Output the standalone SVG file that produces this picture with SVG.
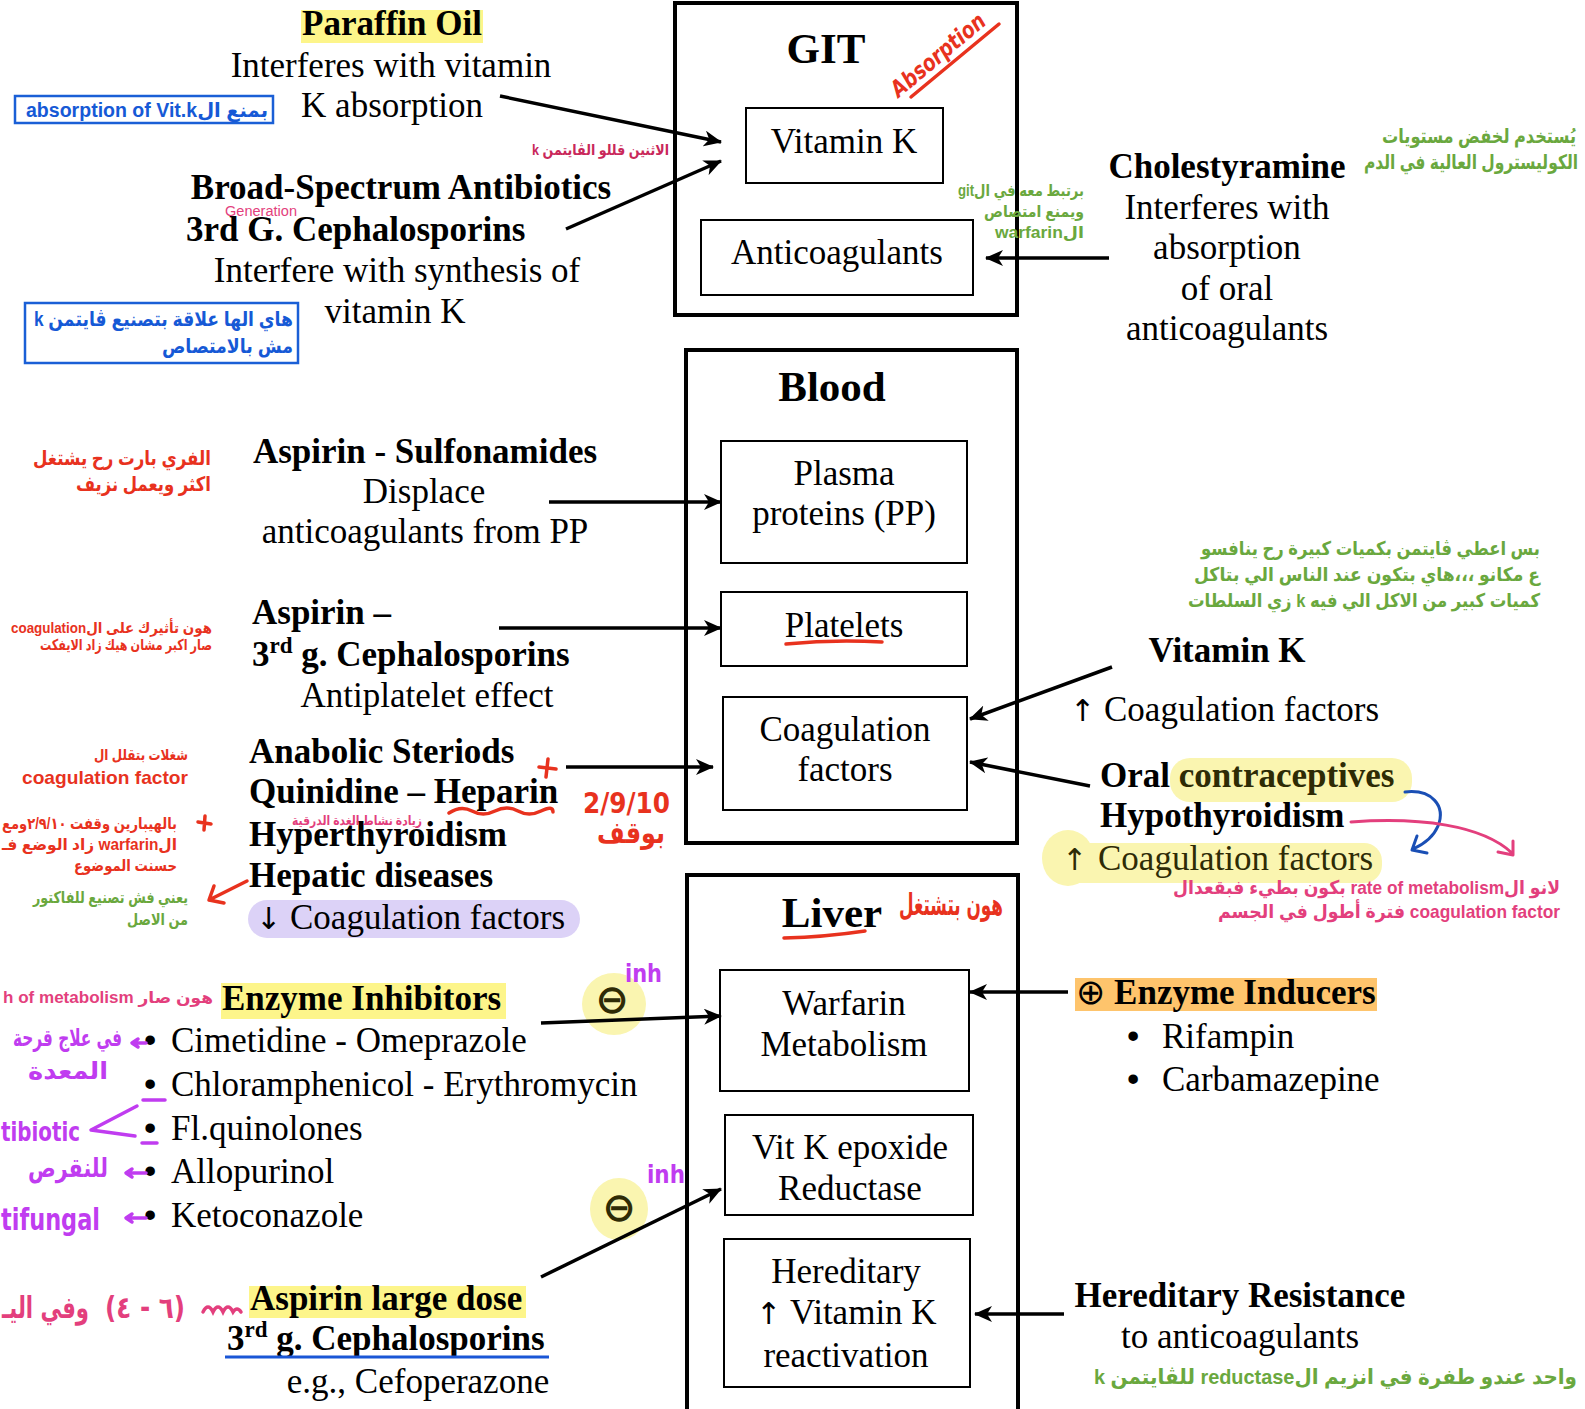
<svg xmlns="http://www.w3.org/2000/svg" width="1585" height="1409" viewBox="0 0 1585 1409">
<defs>
<marker id="ah" viewBox="0 0 18 16" refX="17" refY="8" markerWidth="18" markerHeight="16" orient="auto" markerUnits="userSpaceOnUse"><path d="M0,0 L18,8 L0,16 L5,8 z" fill="#000"/></marker>
</defs>
<style>
.s{font-family:"Liberation Serif","Times New Roman",serif;font-size:35px;fill:#000}
.b{font-weight:bold}
.ttl{font-family:"Liberation Serif","Times New Roman",serif;font-size:43px;font-weight:bold;text-anchor:middle}
.m{text-anchor:middle}
.e{text-anchor:end}
.n{font-family:"Liberation Sans","DejaVu Sans",sans-serif;font-weight:bold}
.r{direction:rtl}
.hw{font-family:"DejaVu Sans",sans-serif;font-weight:bold}
.ar{font-family:"DejaVu Sans",sans-serif;font-size:30px}
.box{fill:#fff;stroke:#000;stroke-width:2}
.obox{fill:none;stroke:#000;stroke-width:4}
.con{stroke:#000;stroke-width:3.5;fill:none;marker-end:url(#ah)}
.red{fill:#e8321e}.grn{fill:#6aa83e}.blu{fill:#1659d6}.pnk{fill:#e33f7d}.mag{fill:#c03cf0}.crm{fill:#c9285a}
.rl{stroke:#e8321e;stroke-width:3.5;fill:none;stroke-linecap:round;stroke-linejoin:round}
.ml{stroke:#c03cf0;stroke-width:3.5;fill:none;stroke-linecap:round;stroke-linejoin:round}
.hl{fill:#fdf58a}
.hs{fill:#faf5b0}
.ol{fill:#2e2b05}
</style>
<rect width="1585" height="1409" fill="#fff"/>

<!-- highlights -->
<rect class="hl" x="301" y="10" width="182" height="33"/>
<rect x="248" y="900" width="332" height="38" rx="19" fill="#dcd2f7"/>
<rect class="hs" x="1170" y="758" width="242" height="44" rx="20"/>
<rect class="hs" x="1050" y="843" width="332" height="40" rx="18"/>
<ellipse class="hs" cx="1068" cy="858" rx="26" ry="28"/>
<rect class="hl" x="221" y="983" width="285" height="36"/>
<rect class="hl" x="249" y="1286" width="277" height="32"/>
<rect x="1075" y="978" width="302" height="33" fill="#fec46c"/>
<ellipse class="hs" cx="614" cy="1004" rx="32" ry="31"/>
<ellipse class="hs" cx="619" cy="1209" rx="29" ry="31"/>

<!-- GIT -->
<g id="git">
<rect class="obox" x="675" y="3" width="342" height="312"/>
<text class="ttl" x="826" y="63">GIT</text>
<text class="hw red" transform="translate(943,61) rotate(-40)" text-anchor="middle" font-size="23" font-style="italic" textLength="116" lengthAdjust="spacingAndGlyphs">Absorption</text>
<path class="rl" d="M911,97 L999,24"/>
</g>
<g id="git-vitk"><rect class="box" x="746" y="108" width="197" height="75"/><text class="s m" x="844" y="153">Vitamin K</text></g>
<g id="git-anticoag"><rect class="box" x="701" y="220" width="272" height="75"/><text class="s m" x="837" y="264">Anticoagulants</text></g>

<g id="paraffin">
<text class="s b m" x="392" y="35">Paraffin Oil</text>
<text class="s m" x="391" y="77">Interferes with vitamin</text>
<text class="s m" x="392" y="117">K absorption</text>
</g>
<g id="note-blue1">
<rect x="15" y="96" width="258" height="27" fill="none" stroke="#1a5fd6" stroke-width="2.5"/>
<text class="n r blu" x="268" y="117" font-size="20" textLength="242" lengthAdjust="spacingAndGlyphs">بمنع الabsorption of Vit.k</text>
</g>
<text class="n r crm" x="669" y="155" font-size="15" textLength="137" lengthAdjust="spacingAndGlyphs">الاثنين قللو الڤايتمن k</text>

<g id="broad">
<text class="s b m" x="401" y="199">Broad-Spectrum Antibiotics</text>
<text class="pnk" x="225" y="216" font-family="Liberation Sans, sans-serif" font-size="14" textLength="72" lengthAdjust="spacingAndGlyphs">Generation</text>
<text class="s b" x="186" y="241">3rd G. Cephalosporins</text>
<text class="s m" x="397" y="282">Interfere with synthesis of</text>
<text class="s m" x="395" y="323">vitamin K</text>
</g>
<g id="note-blue2">
<rect x="25" y="303" width="273" height="60" fill="none" stroke="#1a5fd6" stroke-width="2.5"/>
<text class="n r blu" x="293" y="326" font-size="20" textLength="259" lengthAdjust="spacingAndGlyphs">هاي الها علاقة بتصنيع ڤايتمن k</text>
<text class="n e blu" x="293" y="353" font-size="20" textLength="131" lengthAdjust="spacingAndGlyphs">مش بالامتصاص</text>
</g>

<g id="cholestyramine">
<text class="s b m" x="1227" y="178">Cholestyramine</text>
<text class="s m" x="1227" y="219">Interferes with</text>
<text class="s m" x="1227" y="259">absorption</text>
<text class="s m" x="1227" y="300">of oral</text>
<text class="s m" x="1227" y="340">anticoagulants</text>
</g>
<g id="note-green-git">
<text class="n r grn" x="1084" y="196" font-size="16" textLength="126" lengthAdjust="spacingAndGlyphs">برتبط معه في الgit</text>
<text class="n e grn" x="1084" y="217" font-size="16" textLength="100" lengthAdjust="spacingAndGlyphs">ويمنع امتصاص</text>
<text class="n r grn" x="1084" y="238" font-size="16" textLength="89" lengthAdjust="spacingAndGlyphs">الwarfarin</text>
</g>
<g id="note-green-top">
<text class="n e grn" x="1576" y="143" font-size="20" textLength="194" lengthAdjust="spacingAndGlyphs">يُستخدم لخفض مستويات</text>
<text class="n e grn" x="1578" y="169" font-size="20" textLength="214" lengthAdjust="spacingAndGlyphs">الكوليسترول العالية في الدم</text>
</g>

<!-- Blood -->
<g id="blood">
<rect class="obox" x="686" y="350" width="331" height="493"/>
<text class="ttl" x="832" y="401">Blood</text>
</g>
<g id="blood-pp"><rect class="box" x="721" y="441" width="246" height="122"/><text class="s m" x="844" y="485">Plasma</text><text class="s m" x="844" y="525">proteins (PP)</text></g>
<g id="blood-platelets"><rect class="box" x="721" y="592" width="246" height="74"/><text class="s m" x="844" y="637">Platelets</text><path class="rl" d="M786,644 Q835,639 882,642"/></g>
<g id="blood-coag"><rect class="box" x="723" y="697" width="244" height="113"/><text class="s m" x="845" y="741">Coagulation</text><text class="s m" x="845" y="781">factors</text></g>

<g id="aspirin-sulfa">
<text class="s b m" x="425" y="463">Aspirin - Sulfonamides</text>
<text class="s m" x="424" y="503">Displace</text>
<text class="s m" x="425" y="543">anticoagulants from PP</text>
</g>
<g id="aspirin-ceph">
<text class="s b" x="252" y="624">Aspirin –</text>
<text class="s b" x="252" y="666">3<tspan font-size="23" dy="-13">rd</tspan><tspan dy="13"> g. Cephalosporins</tspan></text>
<text class="s m" x="427" y="707">Antiplatelet effect</text>
</g>
<g id="decrease-coag">
<text class="s b" x="249" y="763">Anabolic Steriods</text>
<text class="s b" x="249" y="803">Quinidine – Heparin</text>
<text class="s b" x="249" y="846">Hyperthyroidism</text>
<text class="s b" x="249" y="887">Hepatic diseases</text>
<text class="s" x="256" y="929" fill="#1a1433"><tspan class="ar">↓</tspan> <tspan x="290">Coagulation factors</tspan></text>
<path class="rl" d="M449,813 Q461,805 472,811 T495,811 T518,811 T541,811 T553,812"/>
<path class="rl" d="M539,767 L556,769 M548,759 L546,777"/>
<text class="pnk n e" x="422" y="825" font-size="13" textLength="130" lengthAdjust="spacingAndGlyphs">زيادة نشاط الغدة الدرقية</text>
<text class="hw red" x="583" y="813" font-size="28" textLength="87" lengthAdjust="spacingAndGlyphs">2/9/10</text>
<text class="hw e red" x="665" y="843" font-size="30" textLength="68" lengthAdjust="spacingAndGlyphs">بوقف</text>
</g>

<g id="notes-left-blood">
<text class="n e red" x="211" y="465" font-size="20" textLength="178" lengthAdjust="spacingAndGlyphs">الفري بارت رح يشتغل</text>
<text class="n e red" x="211" y="491" font-size="20" textLength="135" lengthAdjust="spacingAndGlyphs">اكثر ويعمل نزيف</text>
<text class="n r red" x="212" y="633" font-size="15" textLength="201" lengthAdjust="spacingAndGlyphs">هون تأثيرك على الcoagulation</text>
<text class="n e red" x="212" y="650" font-size="15" textLength="172" lengthAdjust="spacingAndGlyphs">صار اكبر مشان هيك زاد الايفكت</text>
<text class="n e red" x="188" y="760" font-size="15" textLength="94" lengthAdjust="spacingAndGlyphs">شغلات بتقلل ال</text>
<text class="n e red" x="188" y="784" font-size="19" textLength="166" lengthAdjust="spacingAndGlyphs">coagulation factor</text>
<path class="rl" d="M198,822 L211,824 M205,816 L204,830"/>
<text class="n r red" x="177" y="829" font-size="16" textLength="175" lengthAdjust="spacingAndGlyphs">بالهيبارين وقفت ٢/٩/١٠ومع</text>
<text class="n r red" x="177" y="850" font-size="16" textLength="175" lengthAdjust="spacingAndGlyphs">الwarfarin زاد الوضع فـ</text>
<text class="n e red" x="177" y="871" font-size="16" textLength="103" lengthAdjust="spacingAndGlyphs">حسنت الموضوع</text>
<text class="n e grn" x="188" y="903" font-size="16" textLength="155" lengthAdjust="spacingAndGlyphs">يعني فش تصنيع للفاكتور</text>
<text class="n e grn" x="188" y="925" font-size="16" textLength="61" lengthAdjust="spacingAndGlyphs">من الاصل</text>
<path class="rl" d="M247,881 L211,899 M214,886 L209,900 L224,903"/>
</g>

<g id="notes-right-blood">
<text class="n e grn" x="1540" y="555" font-size="19" textLength="339" lengthAdjust="spacingAndGlyphs">بس اعطي ڤايتمن بكميات كبيرة رح ينافسو</text>
<text class="n e grn" x="1540" y="581" font-size="19" textLength="346" lengthAdjust="spacingAndGlyphs">ع مكانو ،،،هاي بتكون عند الناس الي بتاكل</text>
<text class="n r grn" x="1540" y="607" font-size="19" textLength="352" lengthAdjust="spacingAndGlyphs">كميات كبير من الاكل الي فيه k زي السلطات</text>
</g>
<g id="vitk-right">
<text class="s b m" x="1227" y="662">Vitamin K</text>
<text class="s" x="1070" y="721"><tspan class="ar">↑</tspan> <tspan x="1104">Coagulation factors</tspan></text>
</g>
<g id="increase-coag">
<text class="s b" x="1100" y="787">Oral <tspan class="ol">contraceptives</tspan></text>
<text class="s b" x="1100" y="827">Hypothyroidism</text>
<text class="s ol" x="1062" y="870"><tspan class="ar">↑</tspan> <tspan x="1098">Coagulation factors</tspan></text>
<path d="M1405,792 C1432,789 1446,806 1438,826 C1433,838 1422,845 1413,849 M1417,836 L1412,850 L1427,853" stroke="#1a4fb5" stroke-width="3" fill="none" stroke-linecap="round" stroke-linejoin="round"/>
<path d="M1351,822 C1420,817 1482,825 1512,853 M1498,852 L1513,855 L1513,841" stroke="#e33f7d" stroke-width="3" fill="none" stroke-linecap="round" stroke-linejoin="round"/>
<text class="n r pnk" x="1560" y="894" font-size="19" textLength="387" lengthAdjust="spacingAndGlyphs">لانو الrate of metabolism بكون بطيء فبقعدال</text>
<text class="n r pnk" x="1560" y="918" font-size="19" textLength="342" lengthAdjust="spacingAndGlyphs">coagulation factor فترة أطول في الجسم</text>
</g>

<!-- Liver -->
<g id="liver">
<rect class="obox" x="687" y="875" width="331" height="560"/>
<text class="ttl" x="832" y="927">Liver</text>
<path class="rl" d="M784,938 Q825,937 865,931"/>
<text class="hw e red" x="1003" y="915" font-size="30" textLength="104" lengthAdjust="spacingAndGlyphs">هون بتشتغل</text>
</g>
<g id="liver-warfarin"><rect class="box" x="720" y="970" width="249" height="121"/><text class="s m" x="844" y="1015">Warfarin</text><text class="s m" x="844" y="1056">Metabolism</text></g>
<g id="liver-vkor"><rect class="box" x="725" y="1115" width="248" height="100"/><text class="s m" x="850" y="1159">Vit K epoxide</text><text class="s m" x="850" y="1200">Reductase</text></g>
<g id="liver-hereditary"><rect class="box" x="724" y="1239" width="246" height="148"/><text class="s m" x="846" y="1283">Hereditary</text><text class="s" x="756" y="1324"><tspan class="ar">↑</tspan> <tspan x="790">Vitamin K</tspan></text><text class="s m" x="846" y="1367">reactivation</text></g>

<g id="inducers">
<text class="s b" x="1076" y="1004"><tspan font-family="DejaVu Sans" font-weight="normal">⊕</tspan> Enzyme Inducers</text>
<text class="s" x="1127" y="1048"><tspan font-family="Liberation Sans">•</tspan><tspan x="1162">Rifampin</tspan></text>
<text class="s" x="1127" y="1091"><tspan font-family="Liberation Sans">•</tspan><tspan x="1162">Carbamazepine</tspan></text>
</g>
<g id="hered-resistance">
<text class="s b m" x="1240" y="1307">Hereditary Resistance</text>
<text class="s m" x="1240" y="1348">to anticoagulants</text>
<text class="n r grn" x="1577" y="1384" font-size="21" textLength="483" lengthAdjust="spacingAndGlyphs">واحد عندو طفرة في انزيم الreductase للڤايتمن k</text>
</g>

<g id="inhibitors">
<text class="n r pnk" x="213" y="1003" font-size="16" textLength="210" lengthAdjust="spacingAndGlyphs">هون صار h of metabolism</text>
<text class="s b" x="222" y="1010">Enzyme Inhibitors</text>
<text class="s" x="144" y="1052"><tspan font-family="Liberation Sans">•</tspan><tspan x="171">Cimetidine - Omeprazole</tspan></text>
<text class="s" x="144" y="1096"><tspan font-family="Liberation Sans">•</tspan><tspan x="171">Chloramphenicol - Erythromycin</tspan></text>
<text class="s" x="144" y="1140"><tspan font-family="Liberation Sans">•</tspan><tspan x="171">Fl.quinolones</tspan></text>
<text class="s" x="144" y="1183"><tspan font-family="Liberation Sans">•</tspan><tspan x="171">Allopurinol</tspan></text>
<text class="s" x="144" y="1227"><tspan font-family="Liberation Sans">•</tspan><tspan x="171">Ketoconazole</tspan></text>
<text class="hw ol m" x="612" y="1013" font-size="40" font-weight="normal">⊖</text>
<text class="hw mag" x="625" y="982" font-size="24" textLength="37" lengthAdjust="spacingAndGlyphs">inh</text>
</g>
<g id="notes-inhibitors">
<text class="hw e mag" x="122" y="1046" font-size="24" textLength="109" lengthAdjust="spacingAndGlyphs">في علاج قرحة</text>
<text class="hw e mag" x="108" y="1079" font-size="24" textLength="80" lengthAdjust="spacingAndGlyphs">المعدة</text>
<path class="ml" d="M146,1043 L133,1043 M138,1039 L132,1043 L138,1047"/>
<path class="ml" d="M143,1100 L165,1100 M142,1143 L157,1143"/>
<path class="ml" d="M137,1106 L91,1130 L135,1136"/>
<text class="hw mag" x="1" y="1141" font-size="26" textLength="79" lengthAdjust="spacingAndGlyphs">tibiotic</text>
<text class="hw e mag" x="108" y="1177" font-size="26" textLength="80" lengthAdjust="spacingAndGlyphs">للنقرص</text>
<path class="ml" d="M146,1173 L127,1173 M132,1169 L126,1173 L132,1177"/>
<text class="hw mag" x="1" y="1230" font-size="30" textLength="99" lengthAdjust="spacingAndGlyphs">tifungal</text>
<path class="ml" d="M146,1218 L127,1218 M132,1214 L126,1218 L132,1222"/>
</g>

<g id="aspirin-large">
<text class="s b" x="250" y="1310">Aspirin large dose</text>
<text class="s b" x="227" y="1350">3<tspan font-size="23" dy="-13">rd</tspan><tspan dy="13"> g. Cephalosporins</tspan></text>
<path d="M225,1357 L549,1357" stroke="#1a56d6" stroke-width="3"/>
<text class="s m" x="418" y="1393">e.g., Cefoperazone</text>
<text class="hw ol m" x="619" y="1221" font-size="40" font-weight="normal">⊖</text>
<text class="hw mag" x="647" y="1183" font-size="24" textLength="38" lengthAdjust="spacingAndGlyphs">inh</text>
<text class="hw e pnk" x="89" y="1318" font-size="30" textLength="87" lengthAdjust="spacingAndGlyphs">وفي اليـ</text>
<text class="hw pnk" x="105" y="1318" font-size="30" textLength="80" lengthAdjust="spacingAndGlyphs">(٦ - ٤)</text>
<path d="M203,1312 q5,-10 10,0 q5,-10 10,0 q5,-10 10,0 q4,-6 8,0" stroke="#e33f7d" stroke-width="3.5" fill="none" stroke-linecap="round"/>
</g>

<g id="connectors">
<line class="con" x1="500" y1="96" x2="721" y2="142"/>
<line class="con" x1="566" y1="229" x2="721" y2="161"/>
<line class="con" x1="1109" y1="258" x2="986" y2="258"/>
<line class="con" x1="549" y1="502" x2="721" y2="502"/>
<line class="con" x1="499" y1="628" x2="721" y2="628"/>
<line class="con" x1="566" y1="767" x2="713" y2="767"/>
<line class="con" x1="1112" y1="667" x2="970" y2="719"/>
<line class="con" x1="1090" y1="786" x2="970" y2="762"/>
<line class="con" x1="1068" y1="992" x2="970" y2="992"/>
<line class="con" x1="1064" y1="1314" x2="975" y2="1314"/>
<line class="con" x1="541" y1="1023" x2="721" y2="1016"/>
<line class="con" x1="541" y1="1277" x2="721" y2="1189"/>
</g>
</svg>
